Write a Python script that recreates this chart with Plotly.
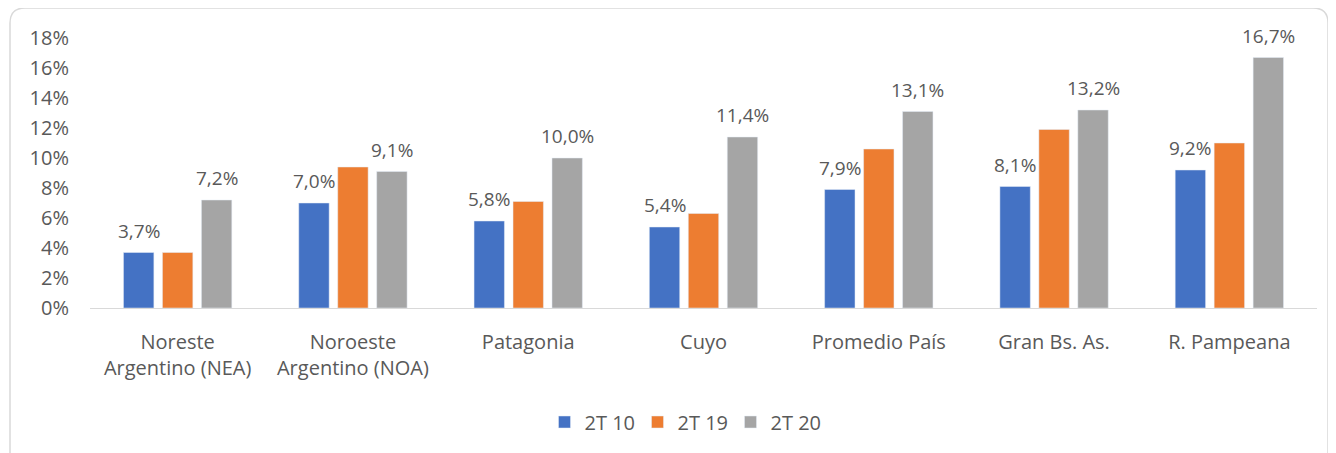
import plotly.graph_objects as go

# Regiones y valores (%)
regiones = [
    "Noreste<br>Argentino (NEA)",
    "Noroeste<br>Argentino (NOA)",
    "Patagonia",
    "Cuyo",
    "Promedio País",
    "Gran Bs. As.",
    "R. Pampeana",
]
series = ["2T 10", "2T 19", "2T 20"]
v_2t10 = [3.7, 7.0, 5.8, 5.4, 7.9, 8.1, 9.2]
v_2t19 = [3.7, 9.4, 7.1, 6.3, 10.6, 11.9, 11.0]
v_2t20 = [7.2, 9.1, 10.0, 11.4, 13.1, 13.2, 16.7]
y_ticks = [0, 2, 4, 6, 8, 10, 12, 14, 16, 18]

colores = ["#4472C4", "#ED7D31", "#A5A5A5"]
TXT = "#595959"
FONT = "Open Sans"
FS = 20

# la página deja 8px de margen en el body: se compensa aquí
OFF = 8
W, H = 1336, 453
L, R, T, B = 90, 19, 38, 145
pw, ph = W - L - R, H - T - B

fig = go.Figure()
for nombre, vals, col in zip(series, [v_2t10, v_2t19, v_2t20], colores):
    fig.add_trace(go.Bar(x=regiones, y=vals, name=nombre, marker_color=col))

# etiquetas de datos (solo 2T 10 y 2T 20, como en el original)
step = pw / len(regiones) * (1 - 0.333) / 3
for vals, shift in [(v_2t10, -step), (v_2t20, step)]:
    for reg, v in zip(regiones, vals):
        fig.add_annotation(
            x=reg, y=v, xref="x", yref="y",
            text=f"{v:.1f}%".replace(".", ","),
            showarrow=False, xshift=shift, yshift=22, yanchor="middle",
            font=dict(size=FS - 1, color=TXT, family=FONT),
        )


# marco redondeado (px -> paper)
def px_x(p):
    return (p - L) / pw


def px_y(p):
    return (H - B - p) / ph


x0, x1, yt, yb = px_x(10), px_x(1328), px_y(8), px_y(480)
rx, ry = 15 / pw, 15 / ph
path = (
    f"M {x0 + rx},{yt} L {x1 - rx},{yt} Q {x1},{yt} {x1},{yt - ry} "
    f"L {x1},{yb} L {x0},{yb} L {x0},{yt - ry} Q {x0},{yt} {x0 + rx},{yt} Z"
)
fig.add_shape(type="path", path=path, xref="paper", yref="paper",
              line=dict(color="#D9D9D9", width=1.5), layer="below")

fig.update_layout(
    width=W - OFF, height=H - OFF,
    margin=dict(l=L - OFF, r=R, t=T - OFF, b=B),
    paper_bgcolor="white", plot_bgcolor="white",
    barmode="group", bargap=0.333, bargroupgap=0.22,
    font=dict(family=FONT, size=FS, color=TXT),
    showlegend=True,
    legend=dict(orientation="h", x=px_x(684), xanchor="center",
                y=px_y(422), yanchor="middle",
                entrywidth=48, entrywidthmode="pixels",
                font=dict(size=FS, color=TXT, family=FONT)),
    xaxis=dict(showline=True, linecolor="#D9D9D9", linewidth=1,
               showgrid=False, ticks="", tickfont=dict(size=FS),
               ticklabelstandoff=16),
    yaxis=dict(range=[0, 18], tickvals=y_ticks,
               ticktext=[f"{t}%" for t in y_ticks],
               showgrid=False, zeroline=False, showline=False,
               tickfont=dict(size=FS), ticklabelstandoff=20),
)

fig.write_html("out.html")
